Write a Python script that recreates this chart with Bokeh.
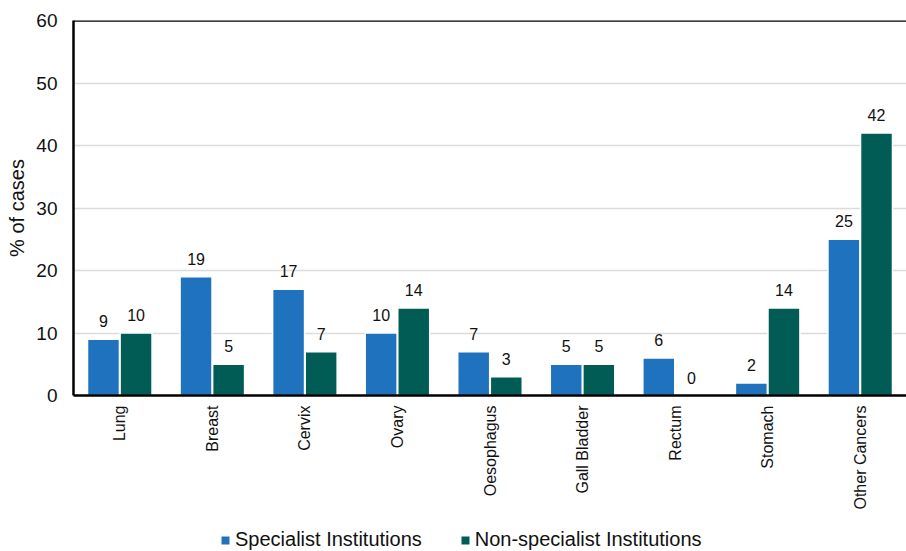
from bokeh.plotting import figure
from bokeh.models import ColumnDataSource, Legend, LegendItem, Span, FactorRange
from bokeh.layouts import column
from bokeh.transform import dodge
from bokeh.core.properties import value
from bokeh.embed import file_html
from bokeh.resources import INLINE
import math

categories = ["Lung", "Breast", "Cervix", "Ovary", "Oesophagus", "Gall Bladder",
              "Rectum", "Stomach", "Other Cancers"]
specialist = [9, 19, 17, 10, 7, 5, 6, 2, 25]
non_specialist = [10, 5, 7, 14, 3, 5, 0, 14, 42]
series_names = ["Specialist Institutions", "Non-specialist Institutions"]
y_ticks = [0, 10, 20, 30, 40, 50, 60]

BLUE = "#1f72bd"
TEAL = "#005c55"
FONT = "Liberation Sans"

src = ColumnDataSource(data=dict(
    cat=categories,
    spec=specialist,
    nonspec=non_specialist,
    spec_lbl=[str(v) for v in specialist],
    nonspec_lbl=[str(v) for v in non_specialist],
))

p = figure(x_range=FactorRange(*categories), y_range=(0, 60),
           width=906, height=520, output_backend="svg", toolbar_location=None,
           min_border_left=73, min_border_top=20, min_border_right=0,
           min_border_bottom=125)

off = 0.176
w = 0.345
r1 = p.vbar(x=dodge("cat", -off, range=p.x_range), top="spec", width=w,
            source=src, fill_color=BLUE, line_color="white", line_width=1.5)
r2 = p.vbar(x=dodge("cat", off, range=p.x_range), top="nonspec", width=w,
            source=src, fill_color=TEAL, line_color="white", line_width=1.5)

p.text(x=dodge("cat", -off, range=p.x_range), y="spec", text="spec_lbl",
       source=src, text_align="center", text_baseline="bottom", y_offset=-12,
       text_font=value(FONT), text_font_size="16px", text_color="#111111")
p.text(x=dodge("cat", off, range=p.x_range), y="nonspec", text="nonspec_lbl",
       source=src, text_align="center", text_baseline="bottom", y_offset=-12,
       text_font=value(FONT), text_font_size="16px", text_color="#111111")

p.outline_line_color = None
p.add_layout(Span(location=60, dimension="width", line_color="black", line_width=2.5))

p.xgrid.grid_line_color = None
p.ygrid.grid_line_color = "#dcdcdc"
p.ygrid.grid_line_width = 1.5
p.yaxis.ticker = y_ticks

p.yaxis.axis_line_color = "black"
p.yaxis.axis_line_width = 2.5
p.yaxis.major_tick_line_color = None
p.yaxis.minor_tick_line_color = None
p.yaxis.major_tick_out = 0
p.yaxis.major_tick_in = 0
p.yaxis.minor_tick_out = 0
p.yaxis.major_label_standoff = 16
p.yaxis.major_label_text_font = FONT
p.yaxis.major_label_text_font_size = "19px"
p.yaxis.major_label_text_color = "#111111"
p.yaxis.axis_label = "% of cases"
p.yaxis.axis_label_text_font = FONT
p.yaxis.axis_label_text_font_size = "20px"
p.yaxis.axis_label_text_font_style = "normal"
p.yaxis.axis_label_text_color = "#111111"
p.yaxis.axis_label_standoff = 5

p.xaxis.axis_line_color = "black"
p.xaxis.axis_line_width = 2.5
p.xaxis.major_tick_line_color = None
p.xaxis.minor_tick_line_color = None
p.xaxis.major_tick_out = 0
p.xaxis.major_tick_in = 0
p.xaxis.major_label_orientation = math.pi / 2
p.xaxis.major_label_standoff = 10
p.xaxis.major_label_text_font = FONT
p.xaxis.major_label_text_font_size = "16px"
p.xaxis.major_label_text_color = "#111111"

# legend strip below the chart (proxy renderers sit outside the visible range)
lf = figure(width=906, height=31, output_backend="svg", toolbar_location=None,
            x_axis_type=None, y_axis_type=None, x_range=(0, 1), y_range=(0, 1),
            min_border_left=0, min_border_right=0, min_border_top=0,
            min_border_bottom=0)
lf.outline_line_color = None
lf.xgrid.grid_line_color = None
lf.ygrid.grid_line_color = None
proxy = ColumnDataSource(data=dict(x=[-5], y=[-5]))
d1 = lf.rect(x="x", y="y", width=0.01, height=0.01, source=proxy,
             fill_color=BLUE, line_color=None)
d2 = lf.rect(x="x", y="y", width=0.01, height=0.01, source=proxy,
             fill_color=TEAL, line_color=None)

legend = Legend(items=[LegendItem(label=series_names[0], renderers=[d1]),
                       LegendItem(label=series_names[1], renderers=[d2])],
                orientation="horizontal", location=(147, 0),
                padding=0, margin=0, spacing=38, label_standoff=5,
                glyph_width=10, glyph_height=10,
                border_line_color=None, background_fill_alpha=0,
                label_text_font=FONT, label_text_font_size="20px",
                label_text_color="#111111")
lf.add_layout(legend, "center")

layout = column(p, lf, spacing=0)
open("out.html", "w").write(file_html(layout, INLINE))
